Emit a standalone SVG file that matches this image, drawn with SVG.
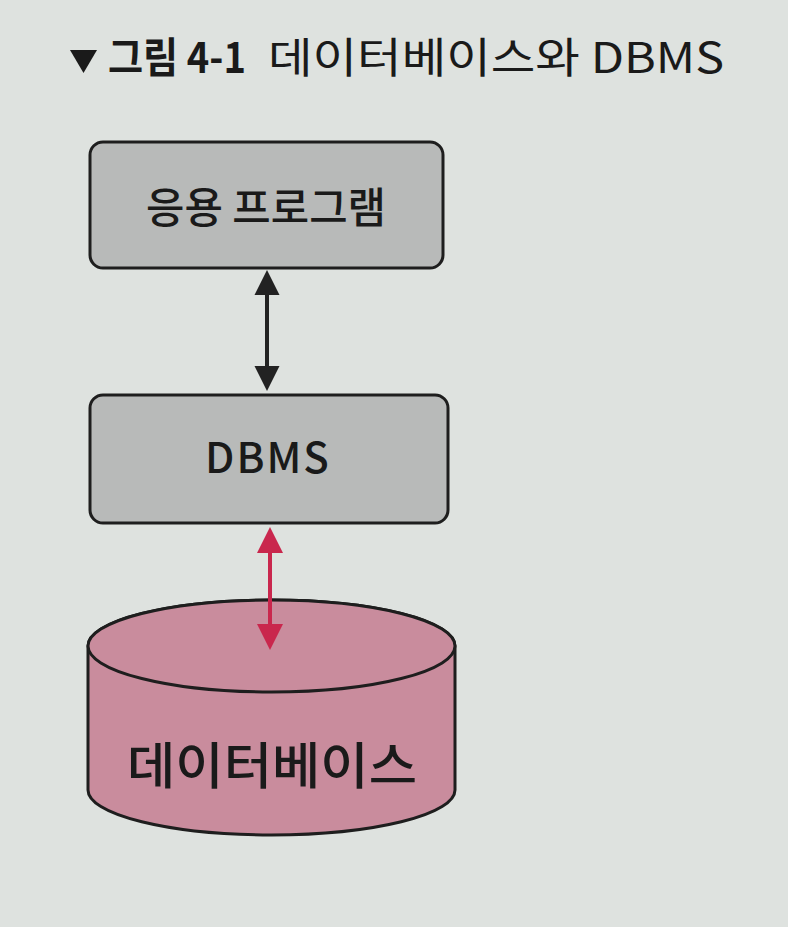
<svg xmlns="http://www.w3.org/2000/svg" width="788" height="927" viewBox="0 0 788 927">
  <style>
    .box { fill: #b8bab9; stroke: #1e1e1e; stroke-width: 3; }
    .lbl { font-family: "Noto Sans CJK KR", "Noto Sans", sans-serif; fill: #1a1a1a; text-anchor: middle; font-weight: 500; }
    .title { font-family: "Noto Sans CJK KR", "Noto Sans", sans-serif; fill: #1a1a1a; }
  </style>
  <defs>
    <marker id="hb" viewBox="0 0 10 10" refX="0" refY="5" markerUnits="userSpaceOnUse" markerWidth="25" markerHeight="30" orient="auto-start-reverse">
      <path d="M0,0 L10,5 L0,10 Z" fill="#222"/>
    </marker>
    <marker id="hr" viewBox="0 0 10 10" refX="0" refY="5" markerUnits="userSpaceOnUse" markerWidth="26" markerHeight="30" orient="auto-start-reverse">
      <path d="M0,0 L10,5 L0,10 Z" fill="#c9274d"/>
    </marker>
  </defs>
  <rect width="788" height="927" fill="#dee2df"/>

  <g id="title">
    <polygon points="70,50 97,50 83.5,73" fill="#1a1a1a"/>
    <text class="title" x="108" y="73" font-size="42" font-weight="bold" textLength="138" lengthAdjust="spacingAndGlyphs">그림 4-1</text>
    <text class="title" x="268" y="73" font-size="42" textLength="456" lengthAdjust="spacingAndGlyphs">데이터베이스와 DBMS</text>
  </g>

  <g id="app">
    <rect class="box" x="90" y="142" width="353" height="126" rx="13"/>
    <text class="lbl" x="266" y="223" font-size="42" textLength="240" lengthAdjust="spacingAndGlyphs">응용 프로그램</text>
  </g>

  <g id="dbms">
    <rect class="box" x="90" y="395" width="358" height="128" rx="13"/>
    <text class="lbl" x="268" y="473" font-size="42" letter-spacing="2">DBMS</text>
  </g>

  <g id="database">
    <path d="M88,646 L88,790 A183.5,45 0 0 0 455,790 L455,646 A183.5,46 0 0 0 88,646 Z" fill="#c98c9d" stroke="#1e1e1e" stroke-width="3"/>
    <ellipse cx="271.5" cy="646" rx="183.5" ry="46" fill="#c98c9d" stroke="#1e1e1e" stroke-width="3"/>
    <text class="lbl" x="272" y="784" font-size="50" textLength="290" lengthAdjust="spacingAndGlyphs">데이터베이스</text>
  </g>

  <g id="connectors">
    <line x1="267" y1="295" x2="267" y2="366" stroke="#222" stroke-width="4" marker-start="url(#hb)" marker-end="url(#hb)"/>
    <line x1="270" y1="553" x2="270" y2="624" stroke="#c9274d" stroke-width="4" marker-start="url(#hr)" marker-end="url(#hr)"/>
  </g>
</svg>
